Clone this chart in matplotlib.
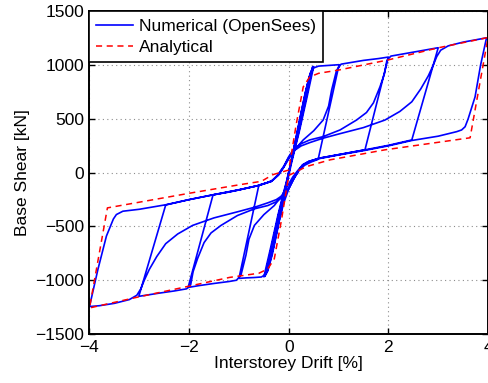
import numpy as np
import matplotlib
matplotlib.use("Agg")
import matplotlib.pyplot as plt

plt.rcParams['font.family'] = ['Liberation Sans', 'DejaVu Sans']

# numerical response, one list pair per half cycle (drift %, shear kN)
h1_x = [0, 0.1, 0.2, 0.3, 0.4, 0.48]
h1_v = [0, 210, 430, 650, 870, 985]
h2_x = [0.48, 0.35, 0.2, 0.1, 0.03, -0.05, -0.15, -0.25, -0.35, -0.43, -0.48]
h2_v = [985, 700, 380, 190, 60, -110, -330, -560, -780, -920, -965]
h3_x = [-0.48, -0.35, -0.2, -0.1, -0.03, 0.05, 0.15, 0.25, 0.35, 0.43, 0.5]
h3_v = [-965, -700, -380, -190, -60, 110, 330, 560, 780, 925, 988]
h4_x = [0.5, 0.37, 0.22, 0.12, 0.05, -0.03, -0.13, -0.23, -0.33, -0.42, -0.5]
h4_v = [988, 710, 400, 210, 80, -90, -310, -540, -760, -910, -968]
h5_x = [-0.5, -0.37, -0.22, -0.12, -0.05, 0.03, 0.13, 0.23, 0.33, 0.42, 0.5, 0.6, 0.8, 1.01]
h5_v = [-968, -710, -400, -210, -90, 70, 290, 520, 740, 900, 975, 992, 998, 1005]
h6_x = [1.01, 0.59, 0.45, 0.32, 0.2, 0.1, 0.0, -0.1, -0.2, -0.3, -0.4, -0.48, -0.55, -0.7, -0.85, -1.0]
h6_v = [1005, 125, 100, 70, 20, -50, -150, -280, -460, -680, -860, -950, -970, -975, -978, -983]
h7_x = [-1.0, -0.6, -0.45, -0.32, -0.2, -0.1, 0.0, 0.15, 0.29, 0.5, 0.69, 0.8, 0.86, 0.96, 1.05, 1.2, 1.5, 1.8, 2.0]
h7_v = [-983, -115, -95, -70, -20, 50, 130, 230, 305, 390, 490, 620, 768, 953, 1010, 1022, 1045, 1062, 1076]
h8_x = [2.0, 1.53, 1.2, 1.0, 0.62, 0.4, 0.28, 0.18, 0.08, -0.02, -0.15, -0.29, -0.5, -0.69, -0.8, -0.86,
        -0.96, -1.05, -1.2, -1.5, -1.8, -2.02]
h8_v = [1076, 213, 185, 168, 136, 105, 74, 20, -40, -120, -220, -305, -390, -490, -620, -768,
        -953, -1000, -1012, -1030, -1050, -1067]
h9_x = [-2.02, -1.52, -1.2, -1.0, -0.6, -0.35, -0.22, -0.1, 0.0, 0.09, 0.25, 0.42, 0.69, 1.03, 1.36, 1.56,
        1.7, 1.83, 1.92, 1.97, 2.05, 2.3, 2.6, 3.0]
h9_v = [-1067, -206, -180, -160, -118, -80, -20, 60, 150, 213, 270, 305, 336, 398, 490, 560,
        650, 798, 920, 1045, 1085, 1105, 1130, 1163]
h10_x = [3.0, 2.47, 2.0, 1.53, 1.0, 0.62, 0.4, 0.28, 0.2, 0.1, 0.0, -0.09, -0.25, -0.42, -0.69, -1.03,
         -1.36, -1.56, -1.7, -1.83, -1.92, -1.97, -2.05, -2.3, -2.6, -3.01]
h10_v = [1163, 305, 255, 213, 168, 136, 105, 74, 20, -60, -150, -213, -270, -305, -336, -398,
         -490, -560, -650, -798, -920, -1045, -1080, -1100, -1120, -1150]
h11_x = [-3.01, -2.47, -2.0, -1.52, -1.0, -0.6, -0.35, -0.22, -0.1, 0.0, 0.09, 0.25, 0.42, 0.68, 1.0, 1.5,
         1.93, 2.23, 2.47, 2.65, 2.8, 2.9, 2.97, 3.05, 3.2, 3.5, 3.8, 3.97]
h11_v = [-1150, -300, -250, -206, -160, -118, -80, -25, 55, 140, 200, 250, 280, 320, 360, 420,
         490, 570, 660, 780, 900, 1000, 1080, 1140, 1180, 1215, 1240, 1255]
h12_x = [3.97, 3.85, 3.74, 3.6, 3.54, 3.47, 3.37, 3.0, 2.47, 2.0, 1.53, 1.0, 0.62, 0.4, 0.28, 0.2, 0.1,
         0.0, -0.09, -0.25, -0.42, -0.68, -1.0, -1.5, -1.93, -2.23, -2.47, -2.65, -2.8, -2.9, -2.97,
         -3.05, -3.2, -3.5, -3.8, -4.0]
h12_v = [1255, 1000, 706, 500, 428, 398, 382, 340, 300, 250, 208, 165, 132, 100, 70, 20, -55,
         -140, -200, -250, -280, -320, -360, -420, -490, -570, -660, -780, -900, -1000, -1080,
         -1140, -1180, -1215, -1237, -1245]
h13_x = [-4.0, -3.83, -3.66, -3.52, -3.46, -3.33, -3.0, -2.47, -2.0, -1.52, -1.0, -0.6, -0.35]
h13_v = [-1245, -898, -589, -430, -389, -358, -340, -298, -250, -205, -158, -118, -80]

# analytical model
ana_x = [-0.32, 0.0, 0.15, 0.29, 0.42, 0.6, 1.0, 2.0, 3.0, 4.0, 3.64, 1.93, 0.83, 0.36, 0.0,
         -0.15, -0.29, -0.42, -0.6, -1.19, -2.0, -3.06, -4.0, -3.64, -1.96, -0.98, -0.55, -0.32]
ana_v = [-18, 25, 450, 798, 891, 925, 955, 1050, 1162, 1258, 325, 213, 120, 58, -25,
         -450, -800, -895, -935, -974, -1055, -1160, -1258, -327, -188, -111, -80, -18]

num_x = h1_x + h2_x + h3_x + h4_x + h5_x + h6_x + h7_x + h8_x + h9_x + h10_x + h11_x + h12_x + h13_x
num_v = h1_v + h2_v + h3_v + h4_v + h5_v + h6_v + h7_v + h8_v + h9_v + h10_v + h11_v + h12_v + h13_v

fig = plt.figure(figsize=(4.89, 3.83), dpi=100)
ax = fig.add_axes([0.183, 0.128, 0.815, 0.842])

ax.plot(num_x, num_v, color='b', lw=1.2, label='Numerical (OpenSees)')
ax.plot(ana_x, ana_v, color='r', lw=1.1, ls='--', dashes=(4, 3), label='Analytical')

ax.set_xlim(-4, 4)
ax.set_ylim(-1500, 1500)
ax.set_xticks([-4, -2, 0, 2, 4])
ax.set_yticks([-1500, -1000, -500, 0, 500, 1000, 1500])
ax.grid(True, color='0.55', ls=(0, (1, 3)), lw=0.8)
ax.tick_params(direction='in', top=True, right=True, length=4, width=1, labelsize=12.5, pad=4)
for s in ax.spines.values():
    s.set_linewidth(1.4)

ax.set_xlabel('Interstorey Drift [%]', fontsize=12.5, labelpad=1)
ax.set_ylabel('Base Shear [kN]', fontsize=12.5, labelpad=4)

leg = ax.legend(loc='upper left', fontsize=12.5, borderaxespad=0, fancybox=False, framealpha=1,
                edgecolor='k', handlelength=2.1, handletextpad=0.35, borderpad=0.4, labelspacing=0.35)
leg.get_frame().set_linewidth(1.2)

fig.savefig('out.png', dpi=100)
